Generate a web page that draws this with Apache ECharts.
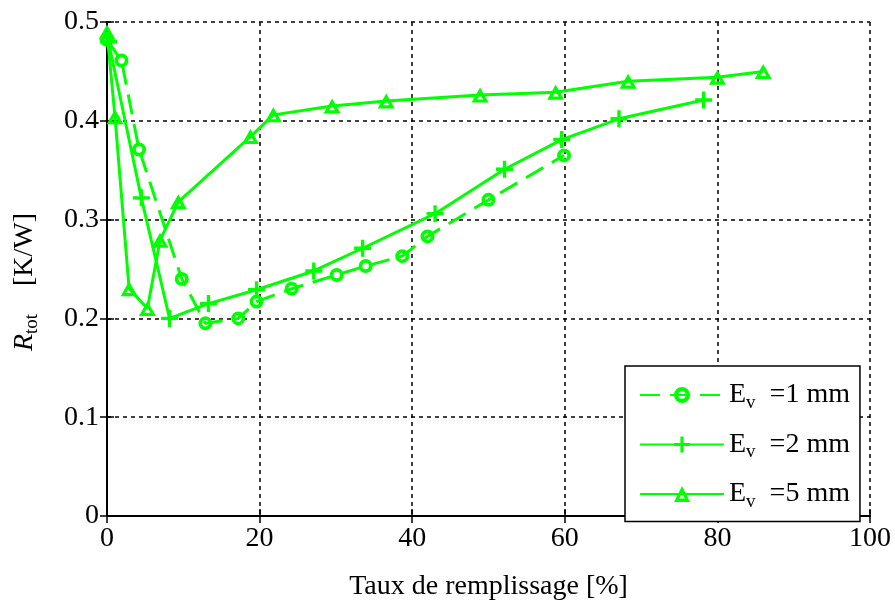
<!DOCTYPE html>
<html><head><meta charset="utf-8">
<script src="https://cdn.jsdelivr.net/npm/echarts@6/dist/echarts.min.js"></script>
<style>html,body{margin:0;padding:0;background:#fff}#c{width:895px;height:606px}</style>
</head><body><div id="c"></div>
<script>
// Data
var xTicks = [0, 20, 40, 60, 80, 100];
var yTicks = [0, 0.1, 0.2, 0.3, 0.4, 0.5];
var seriesNames = ['Ev =1 mm', 'Ev =2 mm', 'Ev =5 mm'];
var legendTexts = ['=1 mm', '=2 mm', '=5 mm'];
var ev1 = [[0,0.482],[1.9,0.461],[4.2,0.371],[9.8,0.240],[12.9,0.195],[17.2,0.200],[19.6,0.217],[24.2,0.230],[30.1,0.244],[33.9,0.253],[38.7,0.263],[42.0,0.283],[50.0,0.320],[59.9,0.365]];
var ev2 = [[0.2,0.480],[4.5,0.322],[8.2,0.200],[13.3,0.215],[19.6,0.229],[27.1,0.248],[33.5,0.271],[43.0,0.306],[52.1,0.351],[59.6,0.381],[67.1,0.402],[78.2,0.421]];
var ev5 = [[0,0.490],[1.05,0.404],[2.9,0.230],[5.3,0.210],[6.95,0.279],[9.35,0.318],[18.8,0.384],[21.8,0.406],[29.5,0.415],[36.6,0.420],[48.9,0.426],[58.8,0.429],[68.3,0.440],[80.0,0.444],[86.0,0.450]];

var GREEN = '#00ff00';
var FONT = 'Liberation Serif';
var FS = 28;
var plusPath = 'path://M4,0 L6,0 L6,4 L10,4 L10,6 L6,6 L6,10 L4,10 L4,6 L0,6 L0,4 L4,4 Z';
var ringPath = 'path://M0,-6.5 A6.5,6.5 0 1,1 0,6.5 A6.5,6.5 0 1,1 0,-6.5 Z M0,-3 A3,3 0 1,0 0,3 A3,3 0 1,0 0,-3 Z';
var triPath = 'path://M8,0 L16,14 L0,14 Z M8,6.05 L5.17,11 L10.83,11 Z';

var chart = echarts.init(document.getElementById('c'), null, {renderer:'canvas'});
var axisCommon = {
  min: 0,
  axisLine: {show:true, lineStyle:{color:'#000', width:2}},
  axisTick: {show:true, inside:true, length:7, lineStyle:{color:'#000', width:1.5}},
  splitLine: {show:false},
  axisLabel: {show:false}
};
var rich = {
  e: {fontFamily: FONT, fontSize: FS, color:'#000'},
  v: {fontFamily: FONT, fontSize: 19, color:'#000', padding:[16,0,0,0]},
  t: {fontFamily: FONT, fontSize: FS, color:'#000'}
};
chart.setOption({
  animation: false,
  backgroundColor: '#fff',
  grid: {left:107, right:25, top:22, bottom:73, containLabel:false},
  xAxis: [
    Object.assign({}, axisCommon, {
      type:'value', max:100, interval:20, position:'bottom',
      name:'Taux de remplissage [%]', nameLocation:'middle', nameGap:57,
      nameTextStyle:{fontFamily:FONT, fontSize:FS, color:'#000'},
      axisLabel:{show:true, fontFamily:FONT, fontSize:FS, color:'#000', margin:9},
      splitLine:{show:true, lineStyle:{color:'#000', type:[4,4], width:1.5}}
    }),
    Object.assign({}, axisCommon, {type:'value', max:100, interval:20, position:'top'})
  ],
  yAxis: [
    Object.assign({}, axisCommon, {
      type:'value', max:0.5, interval:0.1, position:'left',
      name:'{r|R}{s|tot}{g|    [K/W]}', nameLocation:'middle', nameGap:65, nameRotate:90,
      nameTextStyle:{rich:{
        r:{fontFamily:FONT, fontSize:FS, fontStyle:'italic', color:'#000'},
        s:{fontFamily:FONT, fontSize:19, color:'#000', padding:[16,0,0,0]},
        g:{fontFamily:FONT, fontSize:FS, color:'#000', padding:[0,26,0,0]}
      }},
      axisLabel:{show:true, fontFamily:FONT, fontSize:FS, color:'#000', margin:8,
        formatter:function(v){return v===0?'0':v.toFixed(1);}},
      splitLine:{show:true, lineStyle:{color:'#000', type:[4,4], width:1.5}}
    }),
    Object.assign({}, axisCommon, {type:'value', max:0.5, interval:0.1, position:'right'})
  ],
  legend: {
    orient:'vertical', left:625, top:366,
    padding:[15,10,10,14],
    borderColor:'#000', borderWidth:1.5, backgroundColor:'#fff',
    itemWidth:84, itemHeight:20, itemGap:18,
    data: seriesNames,
    formatter: function(name){
      var i = seriesNames.indexOf(name);
      return '{e|E}{v|v}{t|  ' + legendTexts[i] + '}';
    },
    textStyle:{rich:rich, padding:[0,0,0,0]}
  },
  series: [
    {name:seriesNames[0], type:'line', data:ev1, symbol:ringPath, symbolSize:14,
     lineStyle:{color:GREEN, width:3, type:[20,10]},
     itemStyle:{color:GREEN, borderWidth:0}, z:3},
    {name:seriesNames[1], type:'line', data:ev2, symbol:plusPath, symbolSize:17,
     lineStyle:{color:GREEN, width:3},
     itemStyle:{color:GREEN, borderWidth:0}, z:3},
    {name:seriesNames[2], type:'line', data:ev5, symbol:triPath, symbolSize:[17,15],
     lineStyle:{color:GREEN, width:3},
     itemStyle:{color:GREEN, borderWidth:0}, z:3}
  ]
});
</script></body></html>
